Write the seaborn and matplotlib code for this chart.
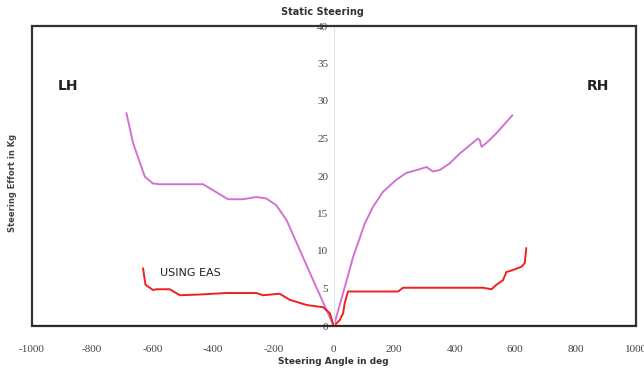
"""Static steering effort vs steering angle, seaborn version"""
import matplotlib
matplotlib.use("Agg")
import matplotlib.pyplot as plt
from matplotlib.patches import Rectangle
import seaborn as sns
import pandas as pd

sns.set_style("white")

# effort without EAS (magenta), left then right
angle_plain = [-686, -664, -625, -598, -576, -432, -350, -300, -256, -223, -190,
               -156, -112, -68, 0, 31, 64, 103, 130, 163, 207, 240, 284, 307,
               328, 351, 384, 417, 450, 477, 483, 489, 505, 538, 591]
effort_plain = [28.4, 24.4, 19.9, 19.0, 18.9, 18.9, 16.9, 16.9, 17.2, 17.0, 16.1,
                14.1, 10.1, 6.1, 0.0, 4.4, 9.2, 13.7, 15.9, 17.9, 19.5, 20.4,
                20.9, 21.2, 20.6, 20.8, 21.7, 23.0, 24.1, 25.0, 24.8, 23.9, 24.4,
                25.7, 28.1]

# effort using EAS (red)
angle_eas = [-631, -623, -598, -587, -543, -509, -443, -355, -256, -234, -179,
             -146, -90, -35, -13, 0, 20, 31, 36, 47, 185, 213, 229, 384, 494,
             522, 538, 560, 571, 588, 621, 632, 637]
effort_eas = [7.7, 5.5, 4.8, 4.9, 4.9, 4.1, 4.2, 4.4, 4.4, 4.1, 4.3, 3.5, 2.8,
              2.5, 1.7, 0.0, 0.8, 1.7, 3.0, 4.6, 4.6, 4.6, 5.1, 5.1, 5.1, 4.9,
              5.5, 6.1, 7.2, 7.4, 7.9, 8.4, 10.4]

x_ticks = list(range(-1000, 1001, 200))
y_ticks = list(range(0, 41, 5))

df = pd.concat([
    pd.DataFrame({"angle": angle_plain, "effort": effort_plain, "case": "plain"}),
    pd.DataFrame({"angle": angle_eas, "effort": effort_eas, "case": "eas"}),
])

fig = plt.figure(figsize=(6.44, 3.71), dpi=100)
ax = fig.add_axes([31.5 / 644, 1 - 326 / 371, (636 - 31.5) / 644, 300 / 371])

sns.lineplot(data=df, x="angle", y="effort", hue="case", sort=False,
             palette={"plain": "#d272d2", "eas": "#f0201c"}, lw=1.4,
             legend=False, ax=ax)

ax.set_xlim(-1000, 1000)
ax.set_ylim(0, 40)
ax.set_xticks(x_ticks)
ax.set_yticks(y_ticks)

# y axis sits on x = 0, frame drawn separately
ax.spines["left"].set_position(("data", 0))
ax.spines["left"].set_color("#e4e4e4")
ax.spines["left"].set_linewidth(0.8)
for s in ["right", "top", "bottom"]:
    ax.spines[s].set_visible(False)
ax.add_patch(Rectangle((0, 0), 1, 1, transform=ax.transAxes, fill=False,
                       ec="#333333", lw=1.6, zorder=5, clip_on=False))
ax.axhline(0, color="#222222", lw=2.2, zorder=6)

tick_font = {"family": "Liberation Serif", "size": 8, "color": "#444444"}
ax.set_xticklabels([str(t) for t in x_ticks], fontdict=tick_font)
ax.set_yticklabels([str(t) for t in y_ticks], fontdict=tick_font)
ax.tick_params(axis="x", length=0, pad=14)
ax.tick_params(axis="y", length=2, pad=2, color="#bbbbbb")

ax.set_ylabel("")
ax.set_xlabel("Steering Angle in deg", fontsize=6.5, fontweight="bold",
              color="#333333", labelpad=2)
fig.text(13 / 644, 1 - 183 / 371, "Steering Effort in Kg", rotation=90,
         fontsize=6, fontweight="bold", color="#444444", ha="center", va="center")
fig.text(0.5, 1 - 12 / 371, "Static Steering", fontsize=7, fontweight="bold",
         color="#333333", ha="center", va="center")

ax.text(-880, 32, "LH", fontsize=10, fontweight="bold", color="#222222",
        ha="center", va="center")
ax.text(873, 32, "RH", fontsize=10, fontweight="bold", color="#222222",
        ha="center", va="center")
ax.text(-576, 7.1, "USING EAS", fontsize=8, color="#222222",
        ha="left", va="center")

fig.savefig("out.png", dpi=100)
